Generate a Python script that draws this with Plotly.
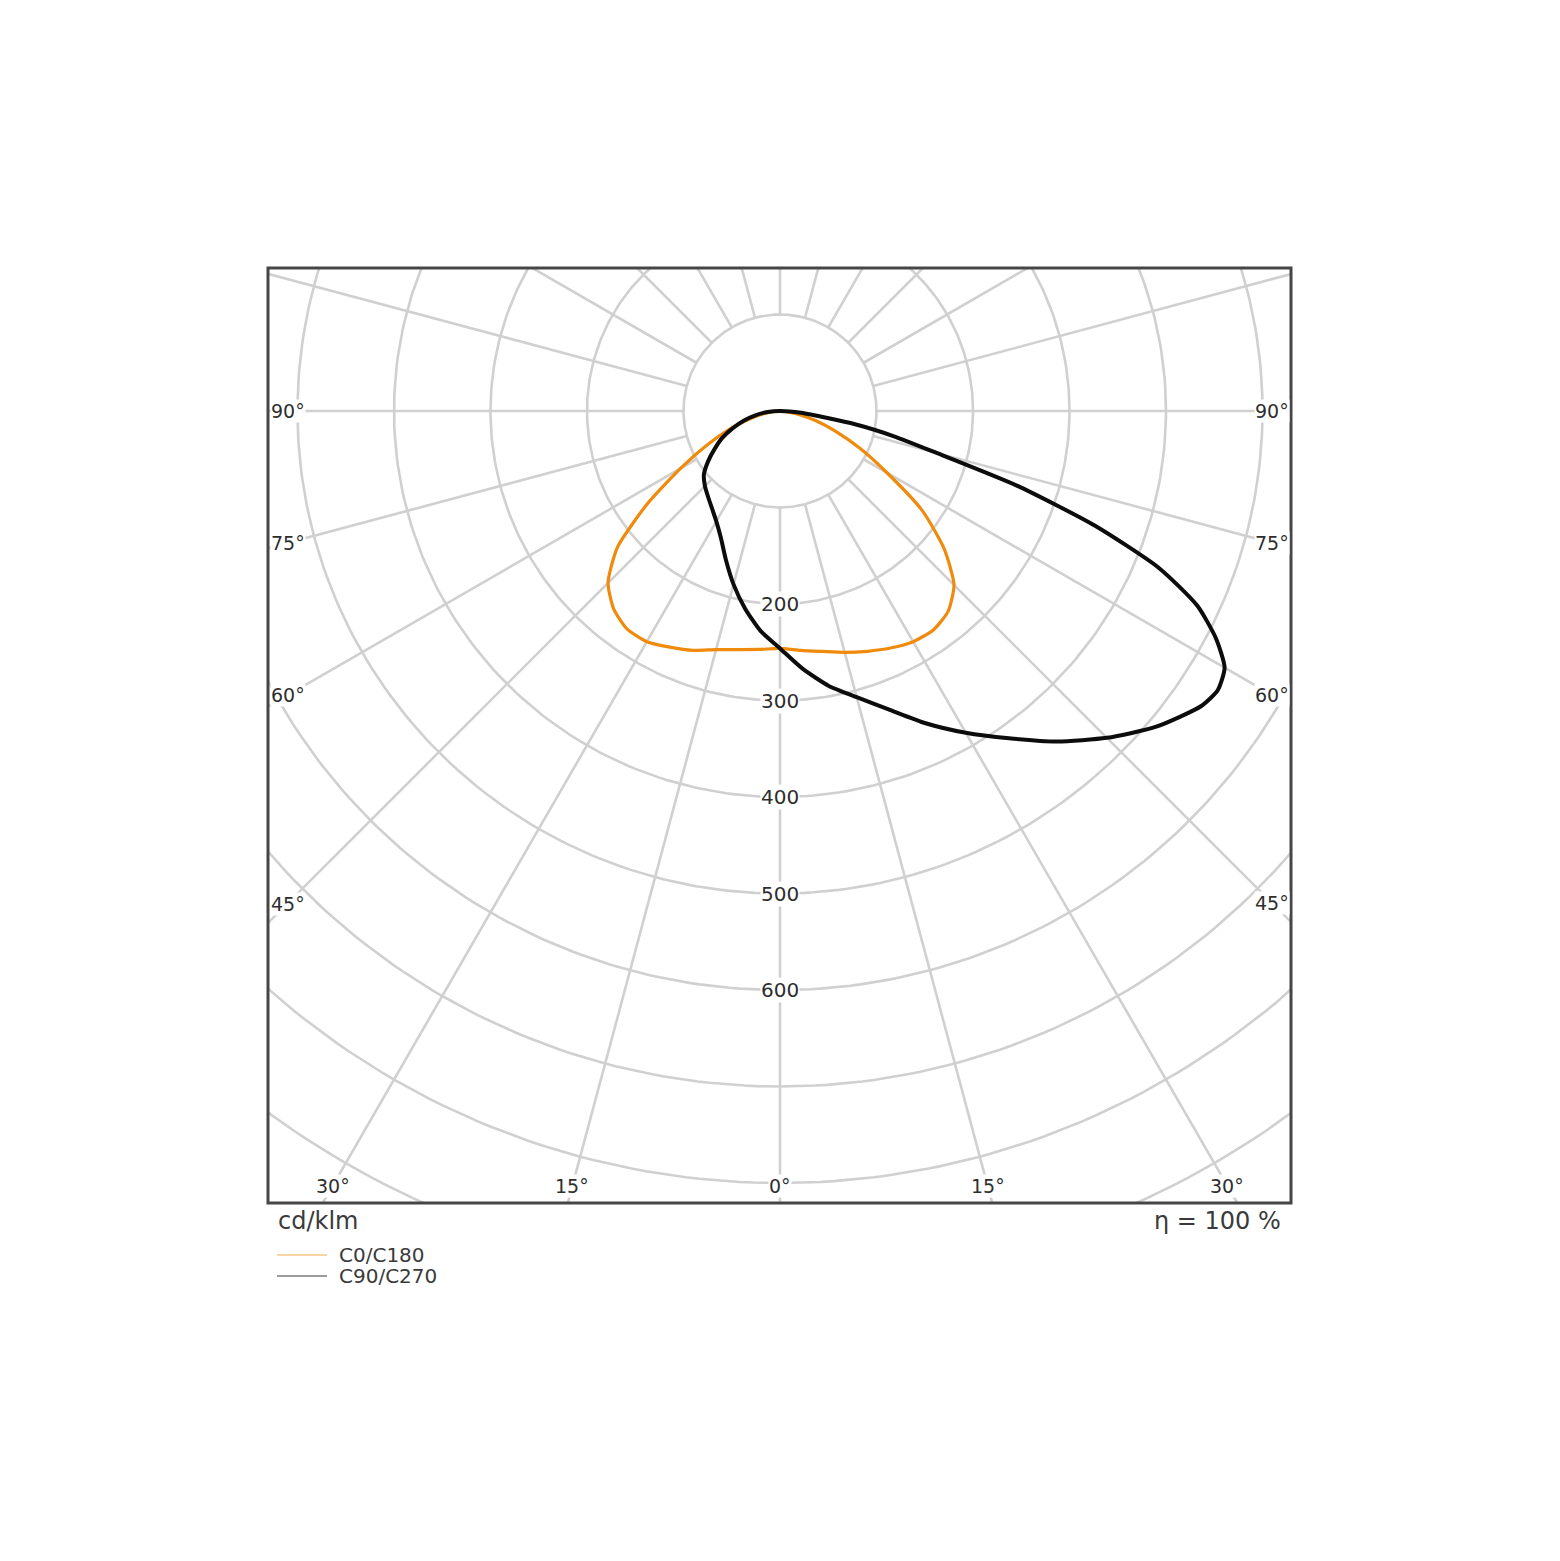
import numpy as np
import plotly.graph_objects as go

# ---------------- data ----------------
# gamma angle in degrees; negative = C180 / C270 half, positive = C0 / C90 half
gamma_c0 = [-90, -85, -80, -75, -70, -65, -60, -55, -50, -45, -40, -35, -30, -25, -20, -15, -10, -5,
            0, 5, 10, 15, 20, 25, 30, 35, 40, 45, 50, 55, 60, 65, 70, 75, 80, 85, 90]
c0_c180 = [0, 7, 18, 34, 56, 83, 119, 168, 220, 252, 268, 276, 276, 270, 264, 256, 251, 248,
           246, 249, 253, 259, 265, 271, 276, 277, 271, 255, 222, 180, 128, 91, 61, 38, 18, 7, 0]

gamma_c90 = [-90, -85, -80, -75, -70, -65, -60, -55, -50, -45, -40, -35, -30, -25, -20, -15, -10, -5,
             0, 5, 10, 15, 20, 25, 30, 35, 40, 45, 50, 55, 57.5, 60, 62.5, 65, 67.5, 70, 72.5, 75,
             77.5, 80, 85, 90]
c90_c270 = [0, 13, 26, 39, 52, 66, 78, 91, 103, 110, 116, 123, 132, 145, 164, 186, 208, 229,
            246, 268, 289, 307, 329, 357, 385, 414, 447, 479, 509, 533, 538, 532, 509, 477, 425,
            347, 258, 168, 121, 79, 22, 0]

ring_values = [100, 200, 300, 400, 500, 600, 700, 800, 900]
ring_labels = [200, 300, 400, 500, 600]
spoke_angles = list(range(0, 360, 15))
side_angle_labels = [45, 60, 75, 90]
bottom_angle_labels = [0, 15, 30]
legend_names = ["C0/C180", "C90/C270"]
unit_text = "cd/klm"
eta_text = "η = 100 %"

# ---------------- styling / geometry ----------------
W, H = 1560, 1561
OFF = 8                                  # page body margin
L, T, R, B = 268 - OFF, 268 - OFF, 1291 - OFF, 1203 - OFF   # plot box (pixels in figure)
CX, CY = 780 - OFF, 411 - OFF            # pole position in pixels
S = 0.965                                # pixels per cd/klm
xr = [-(CX - L) / S, (R - CX) / S]
yr = [-(B - CY) / S, (CY - T) / S]

GRID = "#d0d0d0"
TXT = "#2e2e2e"
FONT = "DejaVu Sans"
ORANGE = "#f08a0c"
BLACK = "#0c0c0c"
legend_colors = ["#f9d3a3", "#9c9c9c"]


def polar_xy(g, r):
    g = np.radians(np.asarray(g, float))
    r = np.asarray(r, float)
    return r * np.sin(g), -r * np.cos(g)


fig = go.Figure()

# grid circles
gx, gy = [], []
th = np.arange(0, 361, 1)
for v in ring_values:
    x, y = polar_xy(th, np.full(th.shape, v))
    gx += list(x) + [None]
    gy += list(y) + [None]
fig.add_trace(go.Scatter(x=gx, y=gy, mode="lines", line=dict(color=GRID, width=2.6),
                         hoverinfo="skip", showlegend=False))

# grid spokes (from the first ring outward)
sx, sy = [], []
for a in spoke_angles:
    x, y = polar_xy([a, a], [ring_values[0], 1400])
    sx += list(x) + [None]
    sy += list(y) + [None]
fig.add_trace(go.Scatter(x=sx, y=sy, mode="lines", line=dict(color=GRID, width=2.6),
                         hoverinfo="skip", showlegend=False))

# curves
x0, y0 = polar_xy(gamma_c0, c0_c180)
fig.add_trace(go.Scatter(x=x0, y=y0, mode="lines", name=legend_names[0],
                         line=dict(color=ORANGE, width=3.2, shape="spline", smoothing=0.6),
                         showlegend=False))
x1, y1 = polar_xy(gamma_c90, c90_c270)
fig.add_trace(go.Scatter(x=x1, y=y1, mode="lines", name=legend_names[1],
                         line=dict(color=BLACK, width=4, shape="spline", smoothing=0.6),
                         showlegend=False))

ann = []
# ring labels along 0 deg
for v in ring_labels:
    ann.append(dict(x=0, y=-v, xref="x", yref="y", text=str(v), showarrow=False,
                    font=dict(family=FONT, size=20, color=TXT), bgcolor="white",
                    borderpad=0, xanchor="center", yanchor="middle"))

# angle labels at box edges
inset = 19.5 / S
xl = xr[0] + inset
xrgt = xr[1] - inset
for a in side_angle_labels:
    for xe in (xl, xrgt):
        y = -abs(xe) / np.tan(np.radians(a)) if a != 90 else 0.0
        ann.append(dict(x=xe, y=y, xref="x", yref="y", text=f"{a}°", showarrow=False,
                        font=dict(family=FONT, size=19, color=TXT), bgcolor="white",
                        borderpad=0, xanchor="center", yanchor="middle"))
yb = yr[0] + 17.5 / S
for a in bottom_angle_labels:
    xs = [0.0] if a == 0 else [-abs(yb) * np.tan(np.radians(a)), abs(yb) * np.tan(np.radians(a))]
    for x in xs:
        ann.append(dict(x=x, y=yb, xref="x", yref="y", text=f"{a}°", showarrow=False,
                        font=dict(family=FONT, size=19, color=TXT), bgcolor="white",
                        borderpad=0, xanchor="center", yanchor="middle"))


def px(xp):
    return (xp - OFF - L) / (R - L)


def py(yp):
    return (B - (yp - OFF)) / (B - T)


ann.append(dict(x=px(276), y=py(1221), xref="paper", yref="paper", text=unit_text,
                showarrow=False, xanchor="left", yanchor="middle",
                font=dict(family=FONT, size=24, color="#3a3a3a")))
ann.append(dict(x=px(1283), y=py(1221), xref="paper", yref="paper", text=eta_text,
                showarrow=False, xanchor="right", yanchor="middle",
                font=dict(family=FONT, size=24, color="#3a3a3a")))

shapes = [dict(type="rect", xref="paper", yref="paper", x0=0, x1=1, y0=0, y1=1,
               line=dict(color="#464646", width=3), layer="above")]
for i, (name, col) in enumerate(zip(legend_names, legend_colors)):
    yy = 1255 + 21 * i
    shapes.append(dict(type="line", xref="paper", yref="paper", x0=px(277), x1=px(327),
                       y0=py(yy), y1=py(yy), line=dict(color=col, width=2)))
    ann.append(dict(x=px(337), y=py(yy), xref="paper", yref="paper", text=name,
                    showarrow=False, xanchor="left", yanchor="middle",
                    font=dict(family=FONT, size=20, color="#3a3a3a")))

fig.update_layout(
    width=W, height=H, autosize=False,
    margin=dict(l=L, r=W - R, t=T, b=H - B, pad=0),
    paper_bgcolor="white", plot_bgcolor="white",
    xaxis=dict(range=xr, visible=False, showgrid=False, zeroline=False, fixedrange=True),
    yaxis=dict(range=yr, visible=False, showgrid=False, zeroline=False, fixedrange=True),
    annotations=ann, shapes=shapes, showlegend=False,
)

fig.write_html("out.html")
